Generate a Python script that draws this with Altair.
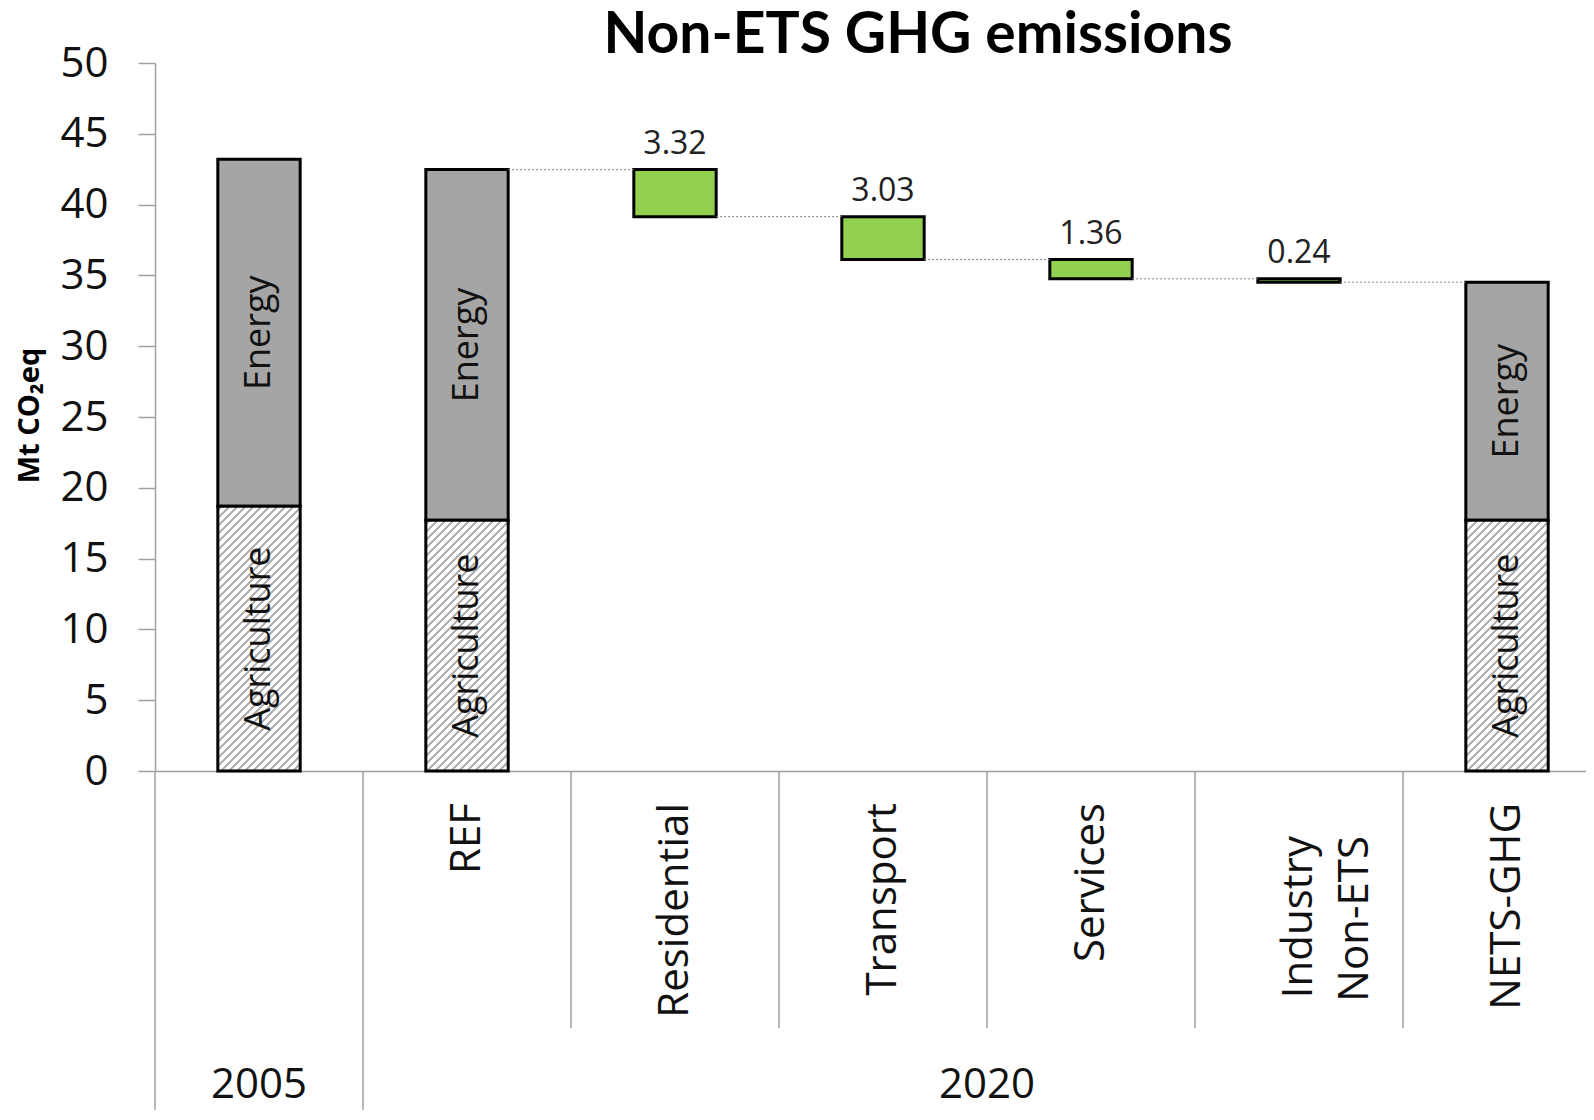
import altair as alt
import pandas as pd

# ---------------- data ----------------
title_text = "Non-ETS GHG emissions"
y_title = "Mt CO₂eq"
stack_labels = ["2005", "REF", "NETS-GHG"]
stack_pos = [0, 1, 6]
agriculture = [18.7, 17.7, 17.7]
energy = [24.5, 24.77]            # NETS-GHG energy follows from the waterfall
step_labels = ["Residential", "Transport", "Services", "Industry Non-ETS"]
step_pos = [2, 3, 4, 5]
reductions = [3.32, 3.03, 1.36, 0.24]
category_labels = ["REF", "Residential", "Transport", "Services", "NETS-GHG"]
category_pos = [1, 2, 3, 4, 6]
wrapped_labels = ["Industry\nNon-ETS"]
wrapped_pos = [5]
year_labels = ["2005", "2020"]
year_groups = [(0, 1), (1, 7)]
divider_long = [0, 1]
divider_short = [2, 3, 4, 5, 6]
y_ticks = list(range(0, 51, 5))

# ---------------- derived tables ----------------
ref_total = agriculture[1] + energy[1]
levels = [ref_total]
for r in reductions:
    levels.append(levels[-1] - r)
energy_all = energy + [levels[-1] - agriculture[2]]

energy_df = pd.DataFrame({
    "pos": stack_pos,
    "lo": agriculture,
    "hi": [a + e for a, e in zip(agriculture, energy_all)],
})
energy_df["mid"] = (energy_df["lo"] + energy_df["hi"]) / 2
energy_df["label"] = "Energy"

agri_df = pd.DataFrame({"pos": stack_pos, "lo": [0.0] * 3, "hi": agriculture})
agri_df["mid"] = agri_df["hi"] / 2
agri_df["label"] = "Agriculture"

step_df = pd.DataFrame({
    "pos": step_pos,
    "name": step_labels,
    "hi": levels[:-1],
    "lo": levels[1:],
    "value": reductions,
})
step_df["txt"] = step_df["value"].map(lambda v: f"{v:.2f}")

conn_df = pd.DataFrame({"pos": [1, 2, 3, 4, 5], "level": levels})

cat_df = pd.DataFrame({"pos": category_pos, "label": category_labels})
wrap_df = pd.DataFrame({"pos": wrapped_pos, "label": wrapped_labels})
year_df = pd.DataFrame({"label": year_labels,
                        "center": [(a + b) / 2 for a, b in year_groups]})
long_df = pd.DataFrame({"pos": divider_long})
short_df = pd.DataFrame({"pos": divider_short})
title_df = pd.DataFrame({"t": [title_text]})

# ---------------- layout / style ----------------
PLOT_W, PLOT_H = 1431, 708
SVG_H = 1102
X_MAX = PLOT_W / 208.0
PX = PLOT_W / X_MAX
HALF = 0.198
BAR_W = 2 * HALF * PX
YPX = PLOT_H / 50.0
FONT = "Open Sans"
GRAY_LINE = "#a0a0a0"

x_scale = alt.Scale(domain=[0, X_MAX], nice=False, zero=False)
y_scale = alt.Scale(domain=[0, 50], nice=False)

x_axis = alt.Axis(labels=False, ticks=False, grid=False, title=None,
                  domainColor=GRAY_LINE, domainWidth=1.5)
y_axis = alt.Axis(values=y_ticks, grid=False, title=y_title,
                  labelFont=FONT, labelFontSize=42, labelColor="#111111",
                  labelPadding=30, tickSize=17, tickColor=GRAY_LINE,
                  tickWidth=1.5, domainColor=GRAY_LINE, domainWidth=1.5,
                  titleFont=FONT, titleFontWeight="bold", titleFontSize=29,
                  titleColor="#000000", titleAngle=270, titleBaseline="bottom",
                  titleAlign="center", titleX=-111, titleY=PLOT_H / 2 - 2)


def hatch(h, period=8.0, line=3.6, color="#b0b0b0"):
    w = BAR_W
    kt = w / (w * w + h * h)
    stops = [alt.GradientStop(offset=0, color="white")]
    k = 0
    while k * period <= w + h + period:
        c = k * period + period / 2
        a = min(1.0, max(0.0, (c - line / 2) * kt))
        b = min(1.0, (c + line / 2) * kt)
        stops += [alt.GradientStop(offset=a, color="white"),
                  alt.GradientStop(offset=a, color=color),
                  alt.GradientStop(offset=b, color=color),
                  alt.GradientStop(offset=b, color="white")]
        k += 1
    return alt.LinearGradient(gradient="linear", stops=stops,
                              x1=0, y1=0, x2=1, y2=h / w)


def bars(df):
    return alt.Chart(df).transform_calculate(
        x0=f"datum.pos + {0.5 - HALF}", x1=f"datum.pos + {0.5 + HALF}")


def xq(field):
    return alt.X(f"{field}:Q", scale=x_scale, axis=x_axis)


def yq(field):
    return alt.Y(f"{field}:Q", scale=y_scale, axis=y_axis)


energy_layer = bars(energy_df).mark_rect(
    fill="#a5a5a5", stroke="black", strokeWidth=3).encode(
    x=xq("x0"), x2="x1:Q", y=yq("lo"), y2="hi:Q")

agri_layers = []
for i in range(len(stack_pos)):
    sub = agri_df.iloc[[i]]
    h = agriculture[i] * YPX
    agri_layers.append(
        bars(sub).mark_rect(fill=hatch(h), stroke="black", strokeWidth=3).encode(
            x=xq("x0"), x2="x1:Q", y=yq("lo"), y2="hi:Q"))

step_layer = bars(step_df).mark_rect(
    fill="#92d050", stroke="black", strokeWidth=3).encode(
    x=xq("x0"), x2="x1:Q", y=yq("lo"), y2="hi:Q")

conn_layer = alt.Chart(conn_df).transform_calculate(
    a=f"datum.pos + {0.5 + HALF}", b=f"datum.pos + {1.5 - HALF}"
).mark_rule(color="#808080", strokeWidth=1, strokeDash=[2, 2]).encode(
    x=xq("a"), x2="b:Q", y=yq("level"))

value_labels = alt.Chart(step_df).transform_calculate(
    c="datum.pos + 0.5").mark_text(
    font=FONT, fontSize=32, color="#222222", baseline="alphabetic",
    align="center", dy=-16).encode(x=xq("c"), y=yq("hi"), text="txt:N")

inbar_df = pd.concat([energy_df, agri_df], ignore_index=True)
inbar_labels = alt.Chart(inbar_df).transform_calculate(
    c="datum.pos + 0.5").mark_text(
    font=FONT, fontSize=36, color="#111111", angle=270, align="center",
    baseline="middle").encode(x=xq("c"), y=yq("mid"), text="label:N")

cat_text = alt.Chart(cat_df).transform_calculate(
    c="datum.pos + 0.5").mark_text(
    font=FONT, fontSize=42, color="#111111", angle=270, align="right",
    baseline="middle").encode(x=xq("c"), y=alt.value(PLOT_H + 32), text="label:N")

wrap_text = alt.Chart(wrap_df).transform_calculate(
    c="datum.pos + 0.5").mark_text(
    font=FONT, fontSize=42, color="#111111", angle=270, align="right",
    baseline="middle", lineBreak="\n", lineHeight=56).encode(
    x=xq("c"), y=alt.value(PLOT_H + 65), text="label:N")

year_text = alt.Chart(year_df).mark_text(
    font=FONT, fontSize=42, color="#111111", align="center",
    baseline="alphabetic").encode(
    x=xq("center"), y=alt.value(PLOT_H + 327), text="label:N")

long_rules = alt.Chart(long_df).mark_rule(
    color=GRAY_LINE, strokeWidth=1.5).encode(
    x=xq("pos"), y=alt.value(PLOT_H), y2=alt.value(PLOT_H + 400))

short_rules = alt.Chart(short_df).mark_rule(
    color=GRAY_LINE, strokeWidth=1.5).encode(
    x=xq("pos"), y=alt.value(PLOT_H), y2=alt.value(PLOT_H + 257))

title_layer = alt.Chart(title_df).mark_text(
    font="Lato", fontWeight="bold", fontSize=57, color="#000000",
    align="center", baseline="alphabetic").encode(
    x=alt.value(763), y=alt.value(-10), text="t:N")

chart = alt.layer(
    energy_layer, *agri_layers, step_layer, conn_layer, value_labels,
    inbar_labels, long_rules, short_rules, cat_text, wrap_text, year_text,
    title_layer,
).properties(
    width=PLOT_W, height=PLOT_H,
    padding={"left": 147, "top": 55, "right": 0, "bottom": SVG_H - 55 - PLOT_H},
    autosize=alt.AutoSizeParams(type="none"),
    background="white",
).configure_view(stroke=None)

chart.save("out.html", embed_options={"renderer": "svg", "actions": False})
